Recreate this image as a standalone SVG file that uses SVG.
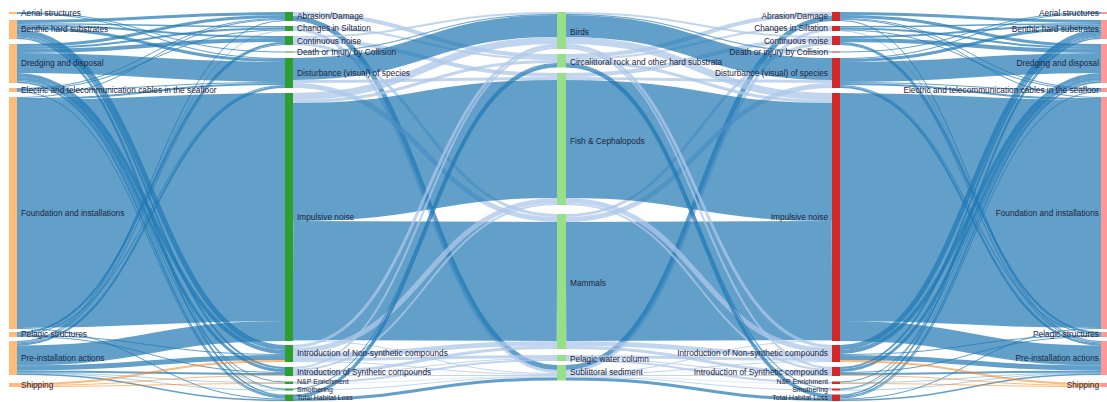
<svg xmlns="http://www.w3.org/2000/svg" width="1107" height="402" viewBox="0 0 1107 402">
  <style>
    .lk { fill: none; stroke: #1f77b4; stroke-opacity: 0.7; }
    .lp { fill: none; stroke: #aec7e8; stroke-opacity: 0.75; }
    .lo { fill: none; stroke: #ff7f0e; stroke-opacity: 0.55; }
    text { font-family: "Liberation Sans", Arial, sans-serif; font-size: 8.3px; fill: #1e2540; }
    .sm { font-size: 7px; }
    .end { text-anchor: end; }
    .c0 { fill: #ffbb78; }
    .c1 { fill: #2ca02c; }
    .c2 { fill: #98df8a; }
    .c3 { fill: #d62728; }
    .c4 { fill: #ff9896; }
  </style>
  <rect width="1107" height="402" fill="#ffffff"/>

  <!-- flows -->
  <g id="links">
    <!-- activities to pressures -->
    <g id="links-sp">
      <path class="lk" stroke-width="1" d="M17,12.5C151,12.5 151,52 285,52"/>
      <path class="lk" stroke-width="1" d="M17,13.5C151,13.5 151,58.5 285,58.5"/>
      <path class="lk" stroke-width="3" d="M17,21.5C151,21.5 151,13.5 285,13.5"/>
      <path class="lk" stroke-width="1.5" d="M17,23.75C151,23.75 151,26.75 285,26.75"/>
      <path class="lk" stroke-width="2" d="M17,25.5C151,25.5 151,37 285,37"/>
      <path class="lk" stroke-width="3" d="M17,28C151,28 151,60.5 285,60.5"/>
      <path class="lk" stroke-width="5" d="M17,32C151,32 151,347.5 285,347.5"/>
      <path class="lk" stroke-width="2" d="M17,35.5C151,35.5 151,368 285,368"/>
      <path class="lk" stroke-width="1" d="M17,37C151,37 151,389 285,389"/>
      <path class="lk" stroke-width="1.5" d="M17,38.25C151,38.25 151,395.25 285,395.25"/>
      <path class="lk" stroke-width="3" d="M17,45.5C151,45.5 151,16.5 285,16.5"/>
      <path class="lk" stroke-width="2" d="M17,48C151,48 151,28.5 285,28.5"/>
      <path class="lk" stroke-width="4" d="M17,51C151,51 151,40 285,40"/>
      <path class="lk" stroke-width="20" d="M17,63C151,63 151,72 285,72"/>
      <path class="lk" stroke-width="4" d="M17,75C151,75 151,352 285,352"/>
      <path class="lk" stroke-width="3" d="M17,78.5C151,78.5 151,370.5 285,370.5"/>
      <path class="lk" stroke-width="1" d="M17,80.5C151,80.5 151,382 285,382"/>
      <path class="lk" stroke-width="0.5" d="M17,81.25C151,81.25 151,389.75 285,389.75"/>
      <path class="lk" stroke-width="1.5" d="M17,82.25C151,82.25 151,396.75 285,396.75"/>
      <path class="lk" stroke-width="1" d="M17,88.5C151,88.5 151,18.5 285,18.5"/>
      <path class="lk" stroke-width="1" d="M17,89.5C151,89.5 151,30 285,30"/>
      <path class="lk" stroke-width="1" d="M17,90.5C151,90.5 151,82.5 285,82.5"/>
      <path class="lk" stroke-width="1" d="M17,91.5C151,91.5 151,398 285,398"/>
      <path class="lk" stroke-width="1" d="M17,97.5C151,97.5 151,19.5 285,19.5"/>
      <path class="lk" stroke-width="2" d="M17,99C151,99 151,84 285,84"/>
      <path class="lk" stroke-width="228" d="M17,214C151,214 151,207 285,207"/>
      <path class="lk" stroke-width="1" d="M17,328.5C151,328.5 151,399 285,399"/>
      <path class="lk" stroke-width="2" d="M17,333C151,333 151,43 285,43"/>
      <path class="lk" stroke-width="1" d="M17,334.5C151,334.5 151,85.5 285,85.5"/>
      <path class="lk" stroke-width="1" d="M17,335.5C151,335.5 151,354.5 285,354.5"/>
      <path class="lk" stroke-width="1" d="M17,336.5C151,336.5 151,372.5 285,372.5"/>
      <path class="lk" stroke-width="1" d="M17,341.5C151,341.5 151,20.5 285,20.5"/>
      <path class="lk" stroke-width="0.5" d="M17,342.25C151,342.25 151,30.75 285,30.75"/>
      <path class="lk" stroke-width="1" d="M17,343C151,343 151,44.5 285,44.5"/>
      <path class="lk" stroke-width="2" d="M17,344.5C151,344.5 151,87 285,87"/>
      <path class="lk" stroke-width="20" d="M17,355.5C151,355.5 151,331 285,331"/>
      <path class="lk" stroke-width="5" d="M17,368C151,368 151,357.5 285,357.5"/>
      <path class="lk" stroke-width="2" d="M17,371.5C151,371.5 151,374 285,374"/>
      <path class="lk" stroke-width="0.5" d="M17,372.75C151,372.75 151,382.75 285,382.75"/>
      <path class="lk" stroke-width="0.5" d="M17,373.25C151,373.25 151,390.25 285,390.25"/>
      <path class="lk" stroke-width="1.5" d="M17,374.25C151,374.25 151,400.25 285,400.25"/>
      <path class="lo" stroke-width="2" d="M17,384C151,384 151,361 285,361"/>
      <path class="lo" stroke-width="1" d="M17,385.5C151,385.5 151,375.5 285,375.5"/>
      <path class="lo" stroke-width="1" d="M17,386.5C151,386.5 151,383.5 285,383.5"/>
    </g>
    <!-- pressures to receptors -->
    <g id="links-pr">
      <path class="lp" stroke-width="4" d="M293,14C425,14 425,56 557,56"/>
      <path class="lk" stroke-width="5" d="M293,18.5C425,18.5 425,367.5 557,367.5"/>
      <path class="lp" stroke-width="2" d="M293,27C425,27 425,59 557,59"/>
      <path class="lp" stroke-width="3" d="M293,29.5C425,29.5 425,371.5 557,371.5"/>
      <path class="lp" stroke-width="2" d="M293,37C425,37 425,13 557,13"/>
      <path class="lp" stroke-width="4" d="M293,40C425,40 425,75 557,75"/>
      <path class="lp" stroke-width="3" d="M293,43.5C425,43.5 425,215.5 557,215.5"/>
      <path class="lk" stroke-width="1" d="M293,52C425,52 425,14.5 557,14.5"/>
      <path class="lk" stroke-width="22" d="M293,69C425,69 425,26 557,26"/>
      <path class="lp" stroke-width="3" d="M293,81.5C425,81.5 425,78.5 557,78.5"/>
      <path class="lp" stroke-width="5" d="M293,85.5C425,85.5 425,219.5 557,219.5"/>
      <path class="lp" stroke-width="7" d="M293,96.5C425,96.5 425,40.5 557,40.5"/>
      <path class="lp" stroke-width="3" d="M293,101.5C425,101.5 425,61.5 557,61.5"/>
      <path class="lk" stroke-width="118" d="M293,162C425,162 425,139 557,139"/>
      <path class="lk" stroke-width="119" d="M293,280.5C425,280.5 425,281.5 557,281.5"/>
      <path class="lp" stroke-width="1" d="M293,340.5C425,340.5 425,373.5 557,373.5"/>
      <path class="lp" stroke-width="3" d="M293,346.5C425,346.5 425,45.5 557,45.5"/>
      <path class="lp" stroke-width="5" d="M293,350.5C425,350.5 425,200.5 557,200.5"/>
      <path class="lp" stroke-width="5" d="M293,355.5C425,355.5 425,343.5 557,343.5"/>
      <path class="lp" stroke-width="3" d="M293,359.5C425,359.5 425,356.5 557,356.5"/>
      <path class="lp" stroke-width="1" d="M293,361.5C425,361.5 425,374.5 557,374.5"/>
      <path class="lp" stroke-width="2" d="M293,368C425,368 425,48 557,48"/>
      <path class="lp" stroke-width="2" d="M293,370C425,370 425,204 557,204"/>
      <path class="lp" stroke-width="3" d="M293,372.5C425,372.5 425,347.5 557,347.5"/>
      <path class="lp" stroke-width="1" d="M293,374.5C425,374.5 425,358.5 557,358.5"/>
      <path class="lp" stroke-width="1" d="M293,375.5C425,375.5 425,375.5 557,375.5"/>
      <path class="lp" stroke-width="2" d="M293,382.5C425,382.5 425,360 557,360"/>
      <path class="lp" stroke-width="0.5" d="M293,383.75C425,383.75 425,376.25 557,376.25"/>
      <path class="lk" stroke-width="1" d="M293,389C425,389 425,63.5 557,63.5"/>
      <path class="lp" stroke-width="1" d="M293,390C425,390 425,377 557,377"/>
      <path class="lk" stroke-width="3.5" d="M293,396.25C425,396.25 425,65.75 557,65.75"/>
      <path class="lk" stroke-width="3" d="M293,399.5C425,399.5 425,379 557,379"/>
    </g>
    <!-- receptors to pressures, and pressures to activities: same flows, reflected -->
    <use href="#links-pr" transform="matrix(-1.007576 0 0 1 1127.22 0)"/>
    <use href="#links-sp" transform="matrix(-0.973881 0 0 1 1117.556 0)"/>
  </g>

  <!-- activities (left) -->
  <g id="src-aerial-l"><rect class="c0" x="9" y="12" width="8" height="2"/><text x="21" y="13" dy="0.35em">Aerial structures</text></g>
  <g id="src-benthic-l"><rect class="c0" x="9" y="20" width="8" height="19"/><text x="21" y="29.5" dy="0.35em">Benthic hard substrates</text></g>
  <g id="src-dredging-l"><rect class="c0" x="9" y="44" width="8" height="39"/><text x="21" y="63.5" dy="0.35em">Dredging and disposal</text></g>
  <g id="src-cables-l"><rect class="c0" x="9" y="88" width="8" height="4"/><text x="21" y="90" dy="0.35em">Electric and telecommunication cables in the seafloor</text></g>
  <g id="src-foundation-l"><rect class="c0" x="9" y="97" width="8" height="232"/><text x="21" y="213" dy="0.35em">Foundation and installations</text></g>
  <g id="src-pelagic-l"><rect class="c0" x="9" y="332" width="8" height="5"/><text x="21" y="334.5" dy="0.35em">Pelagic structures</text></g>
  <g id="src-preinstall-l"><rect class="c0" x="9" y="341" width="8" height="34"/><text x="21" y="358" dy="0.35em">Pre-installation actions</text></g>
  <g id="src-shipping-l"><rect class="c0" x="9" y="383" width="8" height="4"/><text x="21" y="385" dy="0.35em">Shipping</text></g>

  <!-- pressures (left) -->
  <g id="prs-abrasion-l"><rect class="c1" x="285" y="12" width="8" height="9"/><text x="297" y="16.5" dy="0.35em">Abrasion/Damage</text></g>
  <g id="prs-siltation-l"><rect class="c1" x="285" y="26" width="8" height="5"/><text x="297" y="28.5" dy="0.35em">Changes in Siltation</text></g>
  <g id="prs-contnoise-l"><rect class="c1" x="285" y="36" width="8" height="9"/><text x="297" y="41" dy="0.35em">Continuous noise</text></g>
  <g id="prs-collision-l"><rect class="c1" x="285" y="51.5" width="8" height="1"/><text x="297" y="52.5" dy="0.35em">Death or Injury by Collision</text></g>
  <g id="prs-disturbance-l"><rect class="c1" x="285" y="58" width="8" height="30"/><text x="297" y="73" dy="0.35em">Disturbance (visual) of species</text></g>
  <g id="prs-impulsive-l"><rect class="c1" x="285" y="93" width="8" height="248"/><text x="297" y="217" dy="0.35em">Impulsive noise</text></g>
  <g id="prs-nonsynth-l"><rect class="c1" x="285" y="345" width="8" height="17"/><text x="297" y="353.5" dy="0.35em">Introduction of Non-synthetic compounds</text></g>
  <g id="prs-synth-l"><rect class="c1" x="285" y="367" width="8" height="9"/><text x="297" y="372.5" dy="0.35em">Introduction of Synthetic compounds</text></g>
  <g id="prs-np-l"><rect class="c1" x="285" y="381.5" width="8" height="2.5"/><text class="sm" x="297" y="381.5" dy="0.35em">N&amp;P Enrichment</text></g>
  <g id="prs-smothering-l"><rect class="c1" x="285" y="388.5" width="8" height="2"/><text class="sm" x="297" y="389.4" dy="0.35em">Smothering</text></g>
  <g id="prs-habitatloss-l"><rect class="c1" x="285" y="394.5" width="8" height="6.5"/><text class="sm" x="297" y="397.3" dy="0.35em">Total Habitat Loss</text></g>

  <!-- receptors -->
  <g id="rcp-birds"><rect class="c2" x="557" y="12" width="9" height="37"/><text x="570" y="32" dy="0.35em">Birds</text></g>
  <g id="rcp-circalittoral"><rect class="c2" x="557" y="54" width="9" height="13.5"/><text x="570" y="62.5" dy="0.35em">Circalittoral rock and other hard substrata</text></g>
  <g id="rcp-fish"><rect class="c2" x="557" y="73" width="9" height="132"/><text x="570" y="141" dy="0.35em">Fish &amp; Cephalopods</text></g>
  <g id="rcp-mammals"><rect class="c2" x="557" y="214" width="9" height="135"/><text x="570" y="283.5" dy="0.35em">Mammals</text></g>
  <g id="rcp-pelagic"><rect class="c2" x="557" y="355" width="9" height="6"/><text x="570" y="359" dy="0.35em">Pelagic water column</text></g>
  <g id="rcp-sublittoral"><rect class="c2" x="557" y="365" width="9" height="15.5"/><text x="570" y="372.5" dy="0.35em">Sublittoral sediment</text></g>

  <!-- pressures (right) -->
  <g id="prs-abrasion-r"><rect class="c3" x="832" y="12" width="8" height="9"/><text class="end" x="828" y="16.5" dy="0.35em">Abrasion/Damage</text></g>
  <g id="prs-siltation-r"><rect class="c3" x="832" y="26" width="8" height="5"/><text class="end" x="828" y="28.5" dy="0.35em">Changes in Siltation</text></g>
  <g id="prs-contnoise-r"><rect class="c3" x="832" y="36" width="8" height="9"/><text class="end" x="828" y="41" dy="0.35em">Continuous noise</text></g>
  <g id="prs-collision-r"><rect class="c3" x="832" y="51.5" width="8" height="1"/><text class="end" x="828" y="52.5" dy="0.35em">Death or injury by Collision</text></g>
  <g id="prs-disturbance-r"><rect class="c3" x="832" y="58" width="8" height="30"/><text class="end" x="828" y="73" dy="0.35em">Disturbance (visual) of species</text></g>
  <g id="prs-impulsive-r"><rect class="c3" x="832" y="93" width="8" height="248"/><text class="end" x="828" y="217" dy="0.35em">Impulsive noise</text></g>
  <g id="prs-nonsynth-r"><rect class="c3" x="832" y="345" width="8" height="17"/><text class="end" x="828" y="353.5" dy="0.35em">Introduction of Non-synthetic compounds</text></g>
  <g id="prs-synth-r"><rect class="c3" x="832" y="367" width="8" height="9"/><text class="end" x="828" y="372.5" dy="0.35em">Introduction of Synthetic compounds</text></g>
  <g id="prs-np-r"><rect class="c3" x="832" y="381.5" width="8" height="2.5"/><text class="end sm" x="828" y="381.5" dy="0.35em">N&amp;P Enrichment</text></g>
  <g id="prs-smothering-r"><rect class="c3" x="832" y="388.5" width="8" height="2"/><text class="end sm" x="828" y="389.4" dy="0.35em">Smothering</text></g>
  <g id="prs-habitatloss-r"><rect class="c3" x="832" y="394.5" width="8" height="6.5"/><text class="end sm" x="828" y="397.3" dy="0.35em">Total Habitat Loss</text></g>

  <!-- activities (right) -->
  <g id="src-aerial-r"><rect class="c4" x="1101" y="12" width="6" height="2"/><text class="end" x="1099" y="13" dy="0.35em">Aerial structures</text></g>
  <g id="src-benthic-r"><rect class="c4" x="1101" y="20" width="6" height="19"/><text class="end" x="1099" y="29.5" dy="0.35em">Benthic hard substrates</text></g>
  <g id="src-dredging-r"><rect class="c4" x="1101" y="44" width="6" height="39"/><text class="end" x="1099" y="63.5" dy="0.35em">Dredging and disposal</text></g>
  <g id="src-cables-r"><rect class="c4" x="1101" y="88" width="6" height="4"/><text class="end" x="1099" y="90" dy="0.35em">Electric and telecommunication cables in the seafloor</text></g>
  <g id="src-foundation-r"><rect class="c4" x="1101" y="97" width="6" height="232"/><text class="end" x="1099" y="213" dy="0.35em">Foundation and installations</text></g>
  <g id="src-pelagic-r"><rect class="c4" x="1101" y="332" width="6" height="5"/><text class="end" x="1099" y="334.5" dy="0.35em">Pelagic structures</text></g>
  <g id="src-preinstall-r"><rect class="c4" x="1101" y="341" width="6" height="34"/><text class="end" x="1099" y="358" dy="0.35em">Pre-installation actions</text></g>
  <g id="src-shipping-r"><rect class="c4" x="1101" y="383" width="6" height="4"/><text class="end" x="1099" y="385" dy="0.35em">Shipping</text></g>
</svg>
